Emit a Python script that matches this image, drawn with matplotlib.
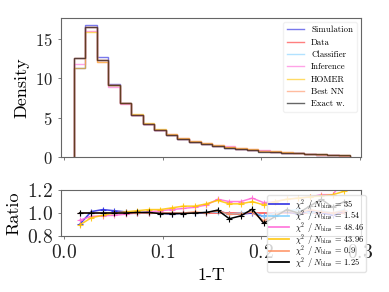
import numpy as np
import matplotlib
matplotlib.use("Agg")
import matplotlib.pyplot as plt
from matplotlib.lines import Line2D

plt.rcParams['font.family'] = ['cmr10', 'DejaVu Serif']
plt.rcParams['mathtext.fontset'] = 'cm'
plt.rcParams['axes.formatter.use_mathtext'] = True
plt.rcParams['axes.unicode_minus'] = False

# ---------------- data ----------------
bin_lo, bin_hi, n_bins = 0.01, 0.29, 24
data_density = [12.6, 16.5, 12.3, 9.1, 6.8, 5.3, 4.2, 3.4, 2.8, 2.3, 1.95, 1.65,
                1.42, 1.22, 1.05, 0.9, 0.77, 0.65, 0.55, 0.46, 0.38, 0.31, 0.25, 0.19]

ratio_sim = [0.90, 1.012, 1.03, 1.02, 1.01, 1.0, 1.0, 1.0, 0.99, 1.0, 1.0, 1.0,
             1.02, 0.99, 0.99, 1.0, 0.97, 1.0, 1.01, 0.99, 1.02, 1.0, 0.98, 1.02]
ratio_cls = [1.0, 1.0, 1.0, 1.0, 1.0, 1.0, 1.005, 0.995, 1.0, 1.0, 1.0, 1.005,
             1.01, 0.99, 1.0, 1.01, 0.97, 1.0, 1.02, 1.03, 1.0, 1.02, 1.0, 1.03]
ratio_inf = [0.937, 0.97, 0.976, 0.98, 0.99, 1.0, 1.01, 1.02, 1.03, 1.04, 1.05, 1.07,
             1.12, 1.10, 1.10, 1.13, 1.09, 1.10, 1.12, 1.13, 1.14, 1.16, 1.16, 1.30]
ratio_homer = [0.895, 0.958, 0.98, 1.0, 1.01, 1.02, 1.03, 1.03, 1.045, 1.06, 1.06, 1.08,
               1.11, 1.08, 1.08, 1.10, 1.07, 1.10, 1.12, 1.13, 1.14, 1.15, 1.16, 1.19]
ratio_best = [1.0, 1.0, 1.0, 1.0, 1.0, 1.0, 1.0, 1.0, 1.0, 1.0, 1.01, 1.0,
              1.02, 0.99, 0.99, 1.01, 0.93, 0.99, 1.02, 1.0, 1.03, 1.01, 1.0, 1.02]
ratio_exact = [1.0, 1.0, 1.0, 1.0, 1.0, 1.005, 1.005, 0.995, 0.995, 0.995, 1.0, 1.005,
               1.025, 0.95, 0.975, 1.034, 0.91, 0.97, 1.03, 1.0, 1.06, 1.12, 1.05, 1.10]

series_names = ["Simulation", "Data", "Classifier", "Inference", "HOMER", "Best NN", "Exact w."]
series_colors = ["#2020e0", "#ff2a2a", "#7fd0ff", "#ff66d8", "#ffc400", "#ff9060", "#000000"]
chi2_values = ["35", "1.54", "48.46", "43.96", "0.9", "1.25"]

# ---------------- figure ----------------
edges = np.linspace(bin_lo, bin_hi, n_bins + 1)
centers = 0.5 * (edges[:-1] + edges[1:])
data_arr = np.array(data_density)
ratios = [ratio_sim, None, ratio_cls, ratio_inf, ratio_homer, ratio_best, ratio_exact]

fig = plt.figure(figsize=(3.89, 2.92), dpi=100)
ax = fig.add_axes([0.157, 0.462, 0.771, 0.476])
axr = fig.add_axes([0.157, 0.192, 0.771, 0.157], sharex=ax)

spine_col = "#666666"
for a in (ax, axr):
    for s in a.spines.values():
        s.set_color(spine_col)
    a.tick_params(colors=spine_col, labelcolor="#222222", length=2.5, width=0.6)

for name, col, r in zip(series_names, series_colors, ratios):
    vals = data_arr if r is None else data_arr * np.array(r)
    ax.stairs(vals, edges, baseline=0, fill=False, color=col, alpha=0.6,
              linewidth=1.0, label=name)

ax.set_ylim(0, 17.6)
ax.set_yticks([0, 5, 10, 15])
ax.set_ylabel("Density", fontsize=13)
ax.tick_params(axis='y', labelsize=12)
ax.tick_params(axis='x', labelbottom=False)
ax.legend(loc='upper right', fontsize=6.3, frameon=True, framealpha=0.8,
          edgecolor="#eeeeee", handlelength=2.0, handleheight=0.7,
          labelspacing=0.45, borderpad=0.4)

# ratio panel
axr.plot(centers, np.ones_like(centers), color=series_colors[1], alpha=0.8, linewidth=1.2)
handles, labels = [], []
chi_iter = iter(chi2_values)
for name, col, r in zip(series_names, series_colors, ratios):
    if r is None:
        continue
    chi = next(chi_iter)
    a = 0.85 if col != "#000000" else 1.0
    axr.plot(centers, r, color=col, alpha=a, linewidth=1.1, marker='+',
             markersize=4, markeredgewidth=0.8)
    handles.append(Line2D([], [], color=col, alpha=a, linewidth=1.3))
    labels.append(r"$\chi^2$ / $N_{\rm bins}$ = " + chi)

axr.set_ylim(0.8, 1.2)
axr.set_yticks([0.8, 1.0, 1.2])
axr.set_xlim(-0.003, 0.301)
axr.set_xticks([0.0, 0.1, 0.2, 0.3])
axr.tick_params(labelsize=14)
axr.set_ylabel("Ratio", fontsize=13)
axr.set_xlabel("1-T", fontsize=13)
axr.legend(handles, labels, loc='upper left', bbox_to_anchor=(0.676, 0.346),
           bbox_transform=fig.transFigure, fontsize=6, frameon=True,
           framealpha=0.8, edgecolor="#dddddd", handlelength=2.4, labelspacing=-0.4,
           borderpad=0.2, handletextpad=0.7)

fig.savefig("out.png", dpi=100)
